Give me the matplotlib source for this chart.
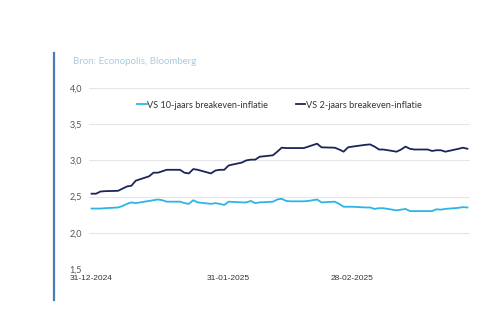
import numpy as np
import pandas as pd
import matplotlib
matplotlib.use('Agg')
import matplotlib.pyplot as plt
import matplotlib.dates as mdates
from matplotlib.lines import Line2D

# business days from 31-12-2024 to 26-03-2025
dates = pd.bdate_range('2024-12-31', '2025-03-26')

be_10y = [2.335, 2.335, 2.335, 2.34, 2.35, 2.37, 2.40, 2.42, 2.41, 2.44,
          2.45, 2.46, 2.45, 2.43, 2.43, 2.41, 2.40, 2.45, 2.42, 2.40,
          2.41, 2.40, 2.385, 2.43, 2.42, 2.42, 2.44, 2.41, 2.42, 2.43,
          2.46, 2.47, 2.44, 2.435, 2.435, 2.44, 2.45, 2.46, 2.42, 2.43,
          2.40, 2.36, 2.36, 2.36, 2.35, 2.35, 2.33, 2.34, 2.34, 2.31,
          2.32, 2.33, 2.30, 2.30, 2.30, 2.30, 2.325, 2.32, 2.33, 2.345,
          2.355, 2.35]
be_2y = [2.54, 2.54, 2.57, 2.575, 2.58, 2.61, 2.64, 2.65, 2.72, 2.78,
         2.83, 2.83, 2.85, 2.87, 2.87, 2.83, 2.82, 2.88, 2.87, 2.82,
         2.86, 2.87, 2.87, 2.93, 2.97, 3.00, 3.01, 3.01, 3.05, 3.07,
         3.12, 3.175, 3.17, 3.17, 3.17, 3.19, 3.21, 3.23, 3.18, 3.175,
         3.15, 3.12, 3.18, 3.19, 3.215, 3.22, 3.19, 3.15, 3.15, 3.12,
         3.15, 3.19, 3.16, 3.15, 3.15, 3.13, 3.14, 3.14, 3.12, 3.16,
         3.175, 3.16]

labels = ['VS 10-jaars breakeven-inflatie', 'VS 2-jaars breakeven-inflatie']
colors = ['#2cb5e6', '#1c2557']
tick_dates = ['2024-12-31', '2025-01-31', '2025-02-28']
yticks = [1.5, 2.0, 2.5, 3.0, 3.5, 4.0]

fig = plt.figure(figsize=(5, 3.33), dpi=100)
ax = fig.add_axes([0.178, 0.192, 0.762, 0.544])

ax.plot(dates, be_10y, color=colors[0], lw=1.3)
ax.plot(dates, be_2y, color=colors[1], lw=1.3)

ax.set_ylim(1.5, 4.0)
ax.set_xlim(pd.Timestamp('2024-12-31') - pd.Timedelta(hours=14),
            pd.Timestamp('2025-03-26') + pd.Timedelta(hours=14))
ax.set_yticks(yticks)
ax.set_yticklabels([f'{v:.1f}'.replace('.', ',') for v in yticks],
                   fontsize=6.5, color='#555555', family='Lato')
ax.set_xticks([pd.Timestamp(d) for d in tick_dates])
ax.xaxis.set_major_formatter(mdates.DateFormatter('%d-%m-%Y'))
for t in ax.get_xticklabels():
    t.set_fontsize(6)
    t.set_color('#333333')
    t.set_family('Liberation Sans')
ax.tick_params(length=0)
ax.tick_params(axis='x', pad=4)
ax.tick_params(axis='y', pad=5)
ax.grid(axis='y', color='#e6e6e6', lw=0.8)
ax.set_axisbelow(True)
for s in ax.spines.values():
    s.set_visible(False)

handles = [Line2D([], [], color=c, lw=1.3) for c in colors]
ax.legend(handles, labels, loc='upper center', bbox_to_anchor=(0.5, 0.975),
          ncol=2, frameon=False, handlelength=1.0, handletextpad=0.1,
          columnspacing=3.0, prop={'family': 'Lato', 'size': 6.6},
          labelcolor='#333333')

# source + left accent bar
fig.text(0.146, 0.815, 'Bron: Econopolis, Bloomberg', fontsize=7,
         color='#a9cbe0', family='Lato', va='center')
fig.add_artist(Line2D([0.108, 0.108], [0.10, 0.84], color='#4a7db3', lw=1.6))

fig.savefig('out.png', dpi=100, facecolor='white')
